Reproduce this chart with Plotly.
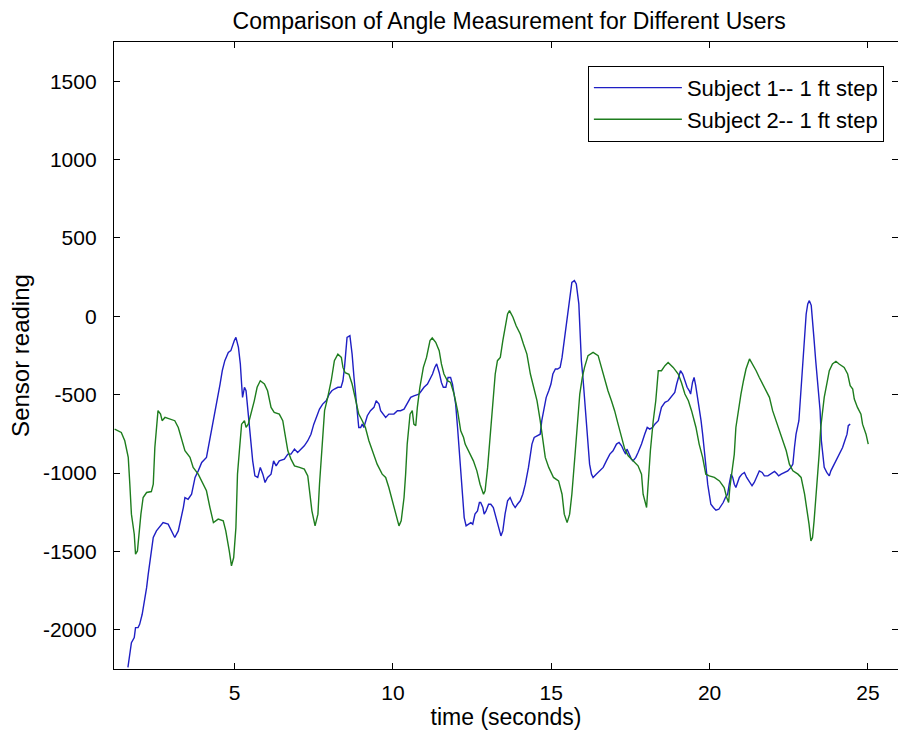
import plotly.graph_objects as go

# Subject 1 (blue)
t1 = [1.63,1.69,1.74,1.83,1.87,1.95,2.00,2.08,2.16,2.22,2.27,2.32,2.37,2.43,2.53,2.64,2.74,2.90,3.01,3.11,
      3.22,3.32,3.38,3.43,3.53,3.64,3.69,3.75,3.85,3.96,4.11,4.17,4.27,4.38,4.46,4.54,4.61,4.69,4.80,4.88,
      4.99,5.04,5.12,5.18,5.22,5.25,5.31,5.36,5.41,5.46,5.52,5.57,5.64,5.73,5.81,5.89,5.96,6.04,6.15,6.23,
      6.31,6.41,6.57,6.68,6.78,6.89,6.99,7.10,7.20,7.31,7.41,7.50,7.57,7.68,7.78,7.89,7.99,8.07,8.15,8.26,
      8.36,8.42,8.47,8.51,8.55,8.64,8.68,8.71,8.77,8.82,8.87,8.92,8.98,9.03,9.08,9.13,9.19,9.29,9.40,9.47,
      9.56,9.61,9.69,9.77,9.87,10.03,10.14,10.24,10.35,10.45,10.56,10.66,10.82,10.90,10.98,11.09,11.17,11.25,11.32,11.38,
      11.46,11.53,11.59,11.67,11.74,11.82,11.88,11.93,11.98,12.04,12.09,12.14,12.20,12.25,12.31,12.38,12.46,12.52,12.59,12.67,
      12.73,12.77,12.84,12.88,12.94,13.02,13.09,13.17,13.26,13.33,13.41,13.47,13.54,13.62,13.70,13.79,13.86,13.93,14.02,14.10,
      14.18,14.28,14.39,14.46,14.55,14.65,14.70,14.78,14.84,14.92,14.99,15.05,15.13,15.20,15.28,15.34,15.41,15.47,15.55,15.60,
      15.65,15.73,15.79,15.87,15.90,15.95,16.00,16.05,16.11,16.16,16.21,16.27,16.32,16.42,16.53,16.64,16.74,16.85,16.95,17.06,
      17.14,17.22,17.29,17.35,17.39,17.46,17.53,17.58,17.67,17.74,17.85,17.95,18.03,18.11,18.20,18.27,18.38,18.48,18.59,18.69,
      18.80,18.90,18.96,19.01,19.08,19.15,19.22,19.29,19.36,19.40,19.46,19.51,19.56,19.62,19.67,19.73,19.78,19.83,19.86,19.91,
      19.94,19.99,20.04,20.12,20.20,20.29,20.36,20.43,20.50,20.57,20.62,20.68,20.73,20.78,20.83,20.89,20.94,21.02,21.10,21.17,
      21.26,21.34,21.41,21.49,21.57,21.66,21.73,21.84,21.94,22.05,22.12,22.18,22.26,22.36,22.47,22.57,22.63,22.68,22.73,22.82,
      22.86,22.92,22.96,23.01,23.05,23.10,23.15,23.21,23.26,23.30,23.35,23.43,23.49,23.53,23.57,23.62,23.70,23.78,23.83,23.91,
      23.99,24.04,24.12,24.20,24.27,24.34,24.38,24.44]
v1 = [-2240,-2157,-2082,-2050,-1986,-1986,-1965,-1901,-1816,-1731,-1646,-1561,-1475,-1411,-1369,-1337,-1316,-1326,-1369,-1411,
      -1369,-1284,-1220,-1156,-1167,-1135,-1081,-1028,-986,-932,-900,-837,-730,-624,-539,-432,-347,-283,-230,-219,
      -155,-134,-198,-304,-432,-517,-453,-475,-581,-688,-815,-922,-1018,-1028,-964,-1007,-1060,-1028,-1007,-922,
      -954,-922,-911,-879,-879,-847,-869,-847,-826,-794,-752,-688,-645,-592,-560,-539,-496,-475,-464,-453,
      -453,-411,-326,-198,-134,-123,-177,-241,-390,-496,-581,-709,-709,-688,-709,-666,-634,-602,-581,-539,
      -560,-602,-624,-645,-624,-624,-602,-602,-592,-560,-517,-507,-496,-475,-453,-432,-400,-368,-326,-304,
      -358,-422,-453,-453,-390,-390,-432,-496,-560,-709,-837,-1007,-1177,-1284,-1337,-1326,-1316,-1326,-1262,-1241,
      -1188,-1188,-1220,-1262,-1241,-1199,-1199,-1220,-1284,-1348,-1401,-1369,-1262,-1177,-1156,-1199,-1220,-1199,-1177,-1135,
      -1071,-964,-815,-773,-762,-752,-666,-581,-517,-475,-432,-368,-336,-336,-326,-262,-155,-28,79,164,
      217,228,207,79,-92,-283,-390,-539,-709,-837,-943,-1007,-1028,-1007,-986,-964,-922,-879,-858,-815,
      -805,-826,-858,-879,-847,-879,-911,-922,-900,-869,-815,-752,-709,-720,-709,-688,-666,-581,-549,-539,
      -507,-485,-432,-390,-347,-368,-411,-453,-475,-496,-422,-390,-440,-517,-560,-666,-752,-837,-922,-1007,
      -1071,-1135,-1199,-1220,-1237,-1231,-1209,-1188,-1156,-1135,-1071,-1007,-1028,-1071,-1092,-1050,-1028,-1007,-996,-1028,
      -1060,-1081,-1060,-1028,-986,-996,-1018,-1018,-1007,-990,-1003,-1018,-1007,-996,-986,-964,-943,-837,-752,-666,
      -539,-411,-283,-134,15,79,100,70,-30,-150,-280,-453,-602,-794,-879,-964,-996,-1018,-986,-954,
      -922,-900,-869,-837,-794,-752,-698,-688]

# Subject 2 (green)
t2 = [1.21,1.42,1.53,1.64,1.69,1.74,1.83,1.87,1.93,1.97,2.04,2.11,2.22,2.37,2.43,2.48,2.58,2.66,2.71,2.80,
      2.95,3.11,3.22,3.32,3.43,3.59,3.69,3.85,4.01,4.11,4.22,4.33,4.48,4.64,4.72,4.78,4.83,4.90,4.97,5.04,
      5.09,5.15,5.22,5.31,5.36,5.43,5.52,5.62,5.71,5.81,5.94,6.04,6.15,6.25,6.41,6.52,6.59,6.68,6.78,6.89,
      7.05,7.20,7.31,7.36,7.44,7.54,7.63,7.68,7.75,7.84,7.94,8.05,8.15,8.26,8.37,8.42,8.49,8.61,8.71,8.82,
      8.92,9.03,9.13,9.24,9.40,9.50,9.66,9.77,9.87,9.98,10.08,10.19,10.26,10.35,10.40,10.45,10.54,10.61,10.66,10.72,
      10.77,10.85,10.96,11.06,11.17,11.24,11.35,11.46,11.53,11.61,11.72,11.82,11.93,12.04,12.14,12.23,12.28,12.44,12.54,12.65,
      12.75,12.86,12.91,12.99,13.07,13.15,13.23,13.30,13.39,13.47,13.54,13.62,13.68,13.79,13.89,14.02,14.12,14.23,14.34,14.44,
      14.55,14.65,14.74,14.81,14.92,15.07,15.23,15.34,15.41,15.50,15.58,15.65,15.76,15.83,15.90,15.98,16.05,16.16,16.32,16.48,
      16.58,16.69,16.79,16.90,17.00,17.11,17.22,17.32,17.43,17.58,17.74,17.85,17.90,18.01,18.06,18.13,18.22,18.30,18.38,18.48,
      18.59,18.69,18.85,19.01,19.11,19.22,19.33,19.43,19.57,19.67,19.78,19.88,19.99,20.15,20.31,20.46,20.54,20.60,20.64,20.71,
      20.78,20.83,20.92,20.99,21.07,21.15,21.26,21.36,21.47,21.57,21.68,21.78,21.89,21.99,22.10,22.20,22.31,22.42,22.52,22.63,
      22.79,22.89,23.00,23.07,23.14,23.20,23.25,23.30,23.35,23.41,23.46,23.51,23.57,23.62,23.70,23.78,23.88,23.99,24.09,24.25,
      24.36,24.44,24.52,24.57,24.67,24.78,24.83,24.94,25.01]
v2 = [-720,-741,-794,-900,-1071,-1262,-1390,-1518,-1497,-1390,-1262,-1156,-1124,-1118,-1071,-837,-602,-624,-666,-645,
      -656,-666,-709,-773,-858,-900,-964,-1007,-1071,-1113,-1220,-1316,-1294,-1305,-1369,-1433,-1497,-1592,-1539,-1348,
      -1007,-858,-688,-666,-709,-688,-624,-539,-453,-411,-432,-475,-581,-613,-624,-666,-752,-858,-911,-954,
      -964,-975,-1018,-1113,-1241,-1337,-1262,-1071,-879,-602,-517,-411,-283,-241,-262,-326,-360,-370,-432,-539,
      -624,-666,-709,-794,-879,-943,-1007,-1028,-1092,-1177,-1262,-1337,-1305,-1156,-1007,-815,-624,-602,-688,-698,
      -581,-453,-326,-262,-155,-138,-166,-219,-304,-368,-411,-422,-496,-602,-730,-773,-815,-879,-922,-986,
      -1071,-1135,-1113,-964,-752,-539,-368,-283,-262,-155,-70,15,36,-6,-60,-113,-177,-241,-368,-453,
      -539,-666,-794,-900,-964,-1028,-1050,-1135,-1262,-1316,-1262,-1135,-858,-666,-496,-390,-326,-251,-230,-251,
      -326,-390,-475,-539,-602,-688,-773,-847,-890,-922,-954,-1007,-1135,-1220,-1071,-858,-666,-539,-347,-347,
      -315,-294,-326,-368,-422,-496,-539,-602,-709,-815,-900,-1007,-1018,-1028,-1050,-1092,-1156,-1188,-1092,-986,
      -879,-709,-581,-496,-411,-336,-272,-304,-347,-390,-432,-475,-517,-602,-666,-730,-794,-858,-943,-986,
      -1007,-1028,-1135,-1220,-1326,-1433,-1412,-1305,-1177,-1028,-879,-709,-581,-517,-432,-347,-304,-287,-304,-326,
      -368,-443,-464,-528,-581,-624,-688,-752,-815]

x_ticks = [5, 10, 15, 20, 25]
y_ticks = [-2000, -1500, -1000, -500, 0, 500, 1000, 1500]

FONT = "Liberation Sans, Arial, Helvetica, sans-serif"

fig = go.Figure()
fig.add_trace(go.Scatter(x=t1, y=v1, mode="lines", name="Subject 1-- 1 ft step",
                         line=dict(color="#1f1fc4", width=1.4)))
fig.add_trace(go.Scatter(x=t2, y=v2, mode="lines", name="Subject 2-- 1 ft step",
                         line=dict(color="#1e7d1e", width=1.4)))

axis_common = dict(showline=True, linecolor="black", linewidth=1.3, mirror="ticks",
                   ticks="inside", ticklen=6, tickwidth=1, tickcolor="black",
                   showgrid=False, zeroline=False,
                   tickfont=dict(family=FONT, size=21, color="black"))

fig.update_layout(
    width=898, height=734,
    margin=dict(l=114, r=0, t=42, b=65),
    paper_bgcolor="white", plot_bgcolor="white",
    font=dict(family=FONT, color="black"),
    title=dict(text="Comparison of Angle Measurement for Different Users",
               x=0.567, xanchor="center", y=0.972, yanchor="middle",
               font=dict(family=FONT, size=23, color="black")),
    xaxis=dict(range=[1.19, 25.95], tickvals=x_ticks, ticktext=[str(v) for v in x_ticks],
               title=dict(text="time (seconds)", font=dict(family=FONT, size=23, color="black"), standoff=2),
               ticklabelstandoff=5, **axis_common),
    yaxis=dict(range=[-2250, 1750], tickvals=y_ticks, ticktext=[str(v) for v in y_ticks],
               title=dict(text="Sensor reading", font=dict(family=FONT, size=24, color="black"), standoff=6),
               ticklabelstandoff=12, **axis_common),
    showlegend=True,
    legend=dict(x=0.982, xanchor="right", y=0.962, yanchor="top",
                bgcolor="white", bordercolor="black", borderwidth=1,
                font=dict(family=FONT, size=22, color="black"),
                itemwidth=88, tracegroupgap=0),
)

fig.write_html("out.html")
